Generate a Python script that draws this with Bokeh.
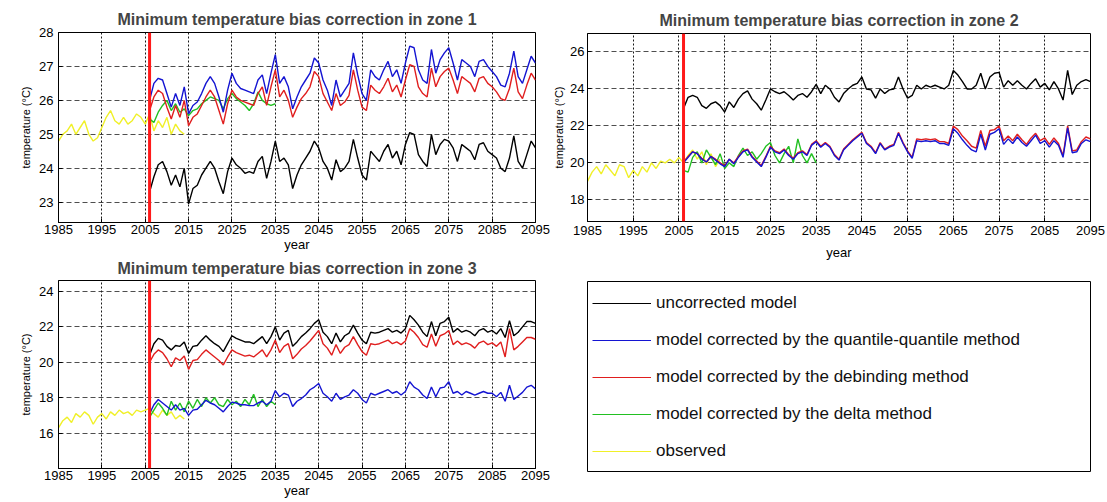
from bokeh.plotting import figure
from bokeh.models import Span, FixedTicker, Legend, LegendItem, Range1d
from bokeh.layouts import row, column
from bokeh.embed import file_html
from bokeh.resources import INLINE

# ---------------- data ----------------
obs_years = list(range(1985, 2015))
model_years = list(range(2006, 2096))
delta_years = list(range(2006, 2036))
x_ticks = list(range(1985, 2096, 10))
split_year = 2006

series_names = ["uncorrected model",
                "model corrected by the quantile-quantile method",
                "model corrected by the debinding method",
                "model corrected by the delta method",
                "observed"]

# zone 1
obs1 = [24.8, 25.0, 25.1, 25.3, 25.0, 25.2, 25.4, 25.0, 24.8, 24.9, 25.2, 25.5, 25.7, 25.4, 25.3,
        25.5, 25.3, 25.4, 25.6, 25.5, 25.3, 25.6, 25.1, 25.4, 25.2, 25.5, 25.0, 25.3, 25.1, 25.0]
delta1 = [25.45, 25.35, 25.65, 25.85, 26.0, 25.7, 25.9, 25.65, 25.75, 25.55, 25.7, 25.75, 25.9, 26.0, 26.1,
          26.05, 26.0, 25.75, 26.05, 26.2, 26.05, 25.95, 25.85, 25.7, 25.9, 26.25, 26.0, 25.9, 25.85, 25.9]
unc1 = [23.3, 23.75, 24.1, 24.2, 23.9, 23.5, 23.8, 23.45, 24.0, 22.95,
        23.4, 23.5, 23.8, 24.0, 24.2, 24.0, 23.6, 23.25, 23.9, 24.3,
        24.1, 24.0, 23.85, 23.9, 23.85, 24.2, 24.35, 23.7, 24.2, 24.8,
        24.2, 24.3, 24.1, 23.4, 23.8, 24.1, 24.3, 24.5, 24.8, 24.6,
        24.2, 24.0, 23.65, 24.25, 23.9, 24.0, 24.2, 24.85, 24.3, 23.8,
        23.65, 24.5, 24.35, 24.2, 24.5, 24.7, 24.3, 24.5, 24.1, 24.7,
        25.05, 25.0, 24.4, 24.2, 24.05, 25.0, 24.4, 24.7, 24.85, 24.8,
        24.6, 24.2, 24.7, 24.6, 24.5, 24.25, 24.7, 24.75, 24.5, 24.4,
        24.3, 24.0, 23.9, 24.3, 24.95, 24.2, 24.0, 24.4, 24.8, 24.6]
qq1 = [26.0, 26.5, 26.65, 26.6, 26.2, 25.8, 26.2, 25.85, 26.4, 25.6,
       25.85, 25.95, 26.2, 26.5, 26.7, 26.5, 26.1, 25.65, 26.3, 26.8,
       26.5, 26.35, 26.3, 26.25, 26.2, 26.6, 26.75, 26.2, 26.8, 27.35,
       26.5, 26.7, 26.4, 25.75, 26.1, 26.4, 26.6, 26.8, 27.25, 27.1,
       26.6, 26.3, 25.85, 26.6, 26.1, 26.3, 26.5, 27.4, 26.75, 26.2,
       26.0, 26.9, 26.7, 26.6, 26.9, 27.15, 26.7, 26.9, 26.5, 27.1,
       27.6, 27.55, 26.9, 26.6, 26.5, 27.5, 26.8, 27.2, 27.4, 27.55,
       27.1, 26.6, 27.2, 27.1, 27.0, 26.7, 27.15, 27.2, 27.0, 26.85,
       26.7, 26.45, 26.4, 26.8, 27.45, 26.7, 26.5, 26.9, 27.3, 27.1]
deb1 = [25.7, 26.1, 26.3, 26.2, 25.8, 25.45, 25.85, 25.5, 26.0, 25.25,
        25.5, 25.6, 25.85, 26.1, 26.3, 26.1, 25.7, 25.3, 25.9, 26.3,
        26.1, 26.0, 25.95, 25.9, 25.85, 26.2, 26.4, 25.85, 26.4, 26.9,
        26.1, 26.3, 26.0, 25.5, 25.8, 26.05, 26.2, 26.4, 26.85, 26.7,
        26.2, 25.95, 25.7, 26.2, 25.85, 25.95, 26.15, 26.9, 26.3, 25.8,
        25.7, 26.45, 26.3, 26.2, 26.4, 26.65, 26.25, 26.45, 26.1, 26.6,
        27.05, 27.0, 26.4, 26.2, 26.1, 26.95, 26.4, 26.7, 26.85, 26.95,
        26.6, 26.2, 26.7, 26.6, 26.5, 26.25, 26.65, 26.7, 26.5, 26.4,
        26.25, 26.05, 26.0, 26.35, 26.95, 26.25, 26.05, 26.45, 26.8, 26.6]

# zone 2
obs2 = [19.0, 19.5, 19.8, 19.4, 19.9, 19.6, 19.3, 19.9, 19.8, 19.2, 19.6, 19.3, 19.8, 19.5, 20.0,
        19.7, 20.1, 20.0, 20.2, 20.0, 20.3, 20.0, 20.4, 20.7, 20.2, 20.6, 19.9, 20.5, 19.8, 20.2]
delta2 = [19.6, 19.5, 20.3, 20.6, 20.0, 20.7, 20.3, 19.9, 20.5, 19.7, 20.0, 19.8, 20.4, 20.8, 20.4,
          20.6, 20.2, 20.5, 20.9, 21.1, 20.4, 20.0, 20.5, 20.9, 20.0, 21.3, 20.4, 20.0, 20.5, 20.0]
unc2 = [22.95, 23.55, 23.65, 23.55, 23.1, 22.95, 23.2, 23.3, 23.1, 22.75,
        23.3, 23.0, 23.45, 23.75, 23.9, 23.45, 23.2, 22.85, 23.4, 24.0,
        23.85, 23.75, 23.85, 23.65, 23.4, 23.65, 23.75, 23.55, 23.85, 24.25,
        23.75, 24.2, 24.0, 23.55, 23.3, 23.75, 24.0, 24.2, 24.3, 24.65,
        24.0, 23.95, 23.5, 24.0, 23.75, 23.95, 24.0, 24.65, 24.0, 23.5,
        23.65, 24.2, 24.0, 24.2, 24.1, 24.2, 24.1, 24.0, 24.2, 25.0,
        24.75, 24.4, 24.0, 24.0, 24.2, 24.85, 24.0, 24.65, 24.85, 24.9,
        24.1, 24.45, 24.2, 24.45, 24.2, 24.0, 24.3, 24.55, 24.1, 24.3,
        23.95, 24.4, 24.0, 23.4, 25.0, 23.7, 24.2, 24.4, 24.5, 24.4]
qq2 = [20.0, 20.3, 20.6, 20.5, 20.2, 20.05, 20.35, 20.15, 19.95, 19.8,
       20.2, 19.95, 20.3, 20.6, 20.7, 20.3, 20.05, 19.8, 20.3, 20.85,
       20.6, 20.5, 20.7, 20.4, 20.2, 20.5, 20.6, 20.4, 20.95, 21.15,
       20.85, 21.05, 20.85, 20.4, 20.15, 20.7, 20.95, 21.2, 21.4, 21.6,
       21.05, 20.85, 20.5, 21.05, 20.7, 20.85, 20.95, 21.6, 21.05, 20.6,
       20.25, 21.2, 21.15, 21.2, 21.15, 21.2, 21.05, 21.05, 20.95, 21.85,
       21.6, 21.25, 20.95, 20.7, 20.6, 21.55, 20.7, 21.55, 21.65, 21.85,
       21.0, 21.3, 21.05, 21.4, 21.1, 20.9, 21.2, 21.5, 21.05, 21.2,
       20.85, 21.2, 20.95, 20.3, 21.9, 20.55, 20.6, 21.05, 21.25, 21.15]
deb2 = [20.05, 20.35, 20.6, 20.5, 20.25, 20.05, 20.35, 20.2, 20.0, 19.85,
        20.2, 20.0, 20.35, 20.65, 20.75, 20.35, 20.1, 19.85, 20.35, 20.9,
        20.65, 20.55, 20.75, 20.45, 20.25, 20.55, 20.65, 20.45, 21.0, 21.2,
        20.9, 21.1, 20.9, 20.45, 20.2, 20.75, 21.0, 21.25, 21.45, 21.65,
        21.1, 20.9, 20.55, 21.1, 20.75, 20.9, 21.0, 21.65, 21.1, 20.65,
        20.3, 21.3, 21.25, 21.3, 21.25, 21.3, 21.15, 21.15, 21.05, 22.0,
        21.8, 21.45, 21.2, 20.9, 20.8, 21.75, 20.9, 21.75, 21.8, 22.0,
        21.2, 21.45, 21.2, 21.55, 21.25, 21.0, 21.35, 21.6, 21.2, 21.35,
        21.0, 21.35, 21.05, 20.4, 22.0, 20.65, 20.7, 21.15, 21.4, 21.3]

# zone 3
obs3 = [16.3, 16.7, 16.9, 16.6, 17.1, 16.9, 17.2, 17.0, 16.5, 16.9, 17.1, 16.8, 17.2, 17.0, 17.3,
        17.1, 17.2, 17.0, 17.3, 17.2, 17.3, 17.4, 17.1, 16.9, 17.3, 17.0, 17.2, 16.8, 17.0, 16.8]
delta3 = [16.9, 17.3, 17.7, 17.4, 17.0, 17.8, 17.3, 17.7, 17.2, 17.8, 17.4, 17.9, 17.5, 18.0, 17.7,
          18.0, 17.6, 17.5, 17.9, 17.6, 17.8, 17.5, 17.9, 17.6, 18.2, 17.5, 17.9, 17.5, 17.8, 17.6]
unc3 = [20.4, 21.05, 21.35, 21.25, 20.9, 20.7, 20.95, 20.9, 21.15, 20.5,
        20.9, 20.95, 21.25, 21.5, 21.25, 21.05, 20.9, 20.6, 21.05, 21.5,
        21.35, 21.25, 21.15, 21.15, 21.05, 21.25, 21.45, 21.05, 21.45, 22.0,
        21.25, 21.65, 21.8, 20.9, 21.15, 21.45, 21.65, 21.9, 22.2, 22.4,
        21.7, 21.45, 21.05, 21.65, 21.15, 21.5, 21.65, 22.1, 21.65, 21.25,
        21.05, 21.7, 21.65, 21.7, 21.8, 21.9, 21.7, 21.8, 21.65, 21.9,
        22.65, 22.4, 22.1, 21.7, 21.45, 22.3, 21.5, 22.2, 22.3, 22.55,
        21.7, 21.9, 21.7, 21.8, 21.7, 21.5, 21.8, 21.9, 21.7, 21.8,
        21.6, 21.9, 21.4, 22.35, 21.5, 21.7, 22.0, 22.3, 22.3, 22.2]
qq3 = [17.1, 17.6, 17.9, 17.7, 17.5, 17.3, 17.6, 17.3, 17.4, 17.0,
       17.3, 17.35, 17.6, 17.85, 17.7, 17.6, 17.4, 17.2, 17.5, 17.75,
       17.7, 17.6, 17.6, 17.55, 17.55, 17.7, 17.8, 17.6, 17.8, 18.4,
       18.05, 18.25, 18.15, 17.5, 17.8, 17.95, 18.15, 18.45, 18.6, 18.8,
       18.25, 18.05, 17.8, 18.25, 17.9, 18.05, 18.15, 18.45, 18.25, 17.9,
       17.7, 18.25, 18.15, 18.25, 18.35, 18.45, 18.25, 18.35, 18.15, 18.35,
       18.9, 18.6, 18.45, 18.15, 17.95, 18.6, 18.05, 18.55, 18.6, 18.9,
       18.25, 18.35, 18.15, 18.35, 18.25, 18.15, 18.25, 18.35, 18.25, 18.25,
       18.05, 18.3, 17.8, 18.7, 17.9, 18.1, 18.3, 18.6, 18.7, 18.5]
deb3 = [20.0, 20.45, 20.7, 20.55, 20.2, 19.75, 20.25, 20.1, 20.35, 19.6,
        20.1, 20.15, 20.45, 20.7, 20.5, 20.3, 20.1, 19.85, 20.3, 20.7,
        20.55, 20.45, 20.35, 20.4, 20.3, 20.5, 20.7, 20.3, 20.7, 21.25,
        20.55, 20.9, 21.05, 20.2, 20.45, 20.75, 20.95, 21.2, 21.5, 21.8,
        21.05, 20.8, 20.4, 21.0, 20.5, 20.85, 21.0, 21.45, 21.0, 20.6,
        20.4, 21.05, 21.0, 21.05, 21.15, 21.25, 21.05, 21.15, 21.0, 21.2,
        21.9, 21.7, 21.4, 21.0, 20.85, 21.6, 20.9, 21.5, 21.6, 21.8,
        21.0, 21.2, 21.0, 21.1, 21.0, 20.8, 21.1, 21.2, 21.0, 21.1,
        20.9, 21.15, 20.3, 21.9, 20.7, 20.9, 21.15, 21.4, 21.4, 21.3]

# ---------------- styling ----------------
FONT = "Liberation Sans"
C_UNC = "#000000"
C_QQ = "#1414d2"
C_DEB = "#e01e1e"
C_DELTA = "#22c022"
C_OBS = "#f0f028"


def panel(title, y0, y1, yticks, obs, delta, deb, qq, unc, w, h, bl, br, bt, bb,
          title_standoff=10, xlab_standoff=0, xtick_standoff=2,
          ytick_standoff=5, ylab_standoff=4):
    p = figure(width=w, height=h, output_backend="svg", toolbar_location=None,
               x_range=Range1d(1985, 2095), y_range=Range1d(y0, y1),
               min_border_left=bl, min_border_right=br, min_border_top=bt,
               min_border_bottom=bb, background_fill_color="white",
               border_fill_color="white", outline_line_color="black",
               outline_line_width=1)
    p.title.text = title
    p.title.align = "center"
    p.title.text_font = FONT
    p.title.text_font_size = "16px"
    p.title.text_font_style = "bold"
    p.title.standoff = title_standoff
    p.xaxis.ticker = FixedTicker(ticks=x_ticks)
    p.yaxis.ticker = FixedTicker(ticks=yticks)
    p.xaxis.axis_label = "year"
    p.yaxis.axis_label = "temperature (°C)"
    for ax in (p.xaxis, p.yaxis):
        ax.axis_line_color = "black"
        ax.major_tick_line_color = "black"
        ax.major_tick_in = 4
        ax.major_tick_out = 0
        ax.minor_tick_line_color = None
        ax.major_label_text_font = FONT
        ax.major_label_text_font_size = "13px"
        ax.major_label_text_color = "black"
        ax.axis_label_text_font = FONT
        ax.axis_label_text_font_style = "normal"
        ax.axis_label_text_color = "black"
    p.xaxis.axis_label_text_font_size = "13px"
    p.yaxis.axis_label_text_font_size = "11px"
    p.xaxis.major_label_standoff = xtick_standoff
    p.xaxis.axis_label_standoff = xlab_standoff
    p.yaxis.major_label_standoff = ytick_standoff
    p.yaxis.axis_label_standoff = ylab_standoff
    p.xgrid.grid_line_color = "black"
    p.xgrid.grid_line_dash = "2 2"
    p.xgrid.grid_line_alpha = 0.9
    p.ygrid.grid_line_color = "#222222"
    p.ygrid.grid_line_dash = "5 3"
    p.ygrid.grid_line_alpha = 0.8

    p.line(obs_years, obs, line_color=C_OBS, line_width=1.4)
    p.line(delta_years, delta, line_color=C_DELTA, line_width=1.4)
    p.line(model_years, deb, line_color=C_DEB, line_width=1.4)
    p.line(model_years, qq, line_color=C_QQ, line_width=1.4)
    p.line(model_years, unc, line_color=C_UNC, line_width=1.4)
    p.add_layout(Span(location=split_year, dimension="height",
                      line_color="#ff1a1a", line_width=3))
    return p


p1 = panel("Minimum temperature bias correction in zone 1", 22.4, 28.0,
           [23, 24, 25, 26, 27, 28], obs1, delta1, deb1, qq1, unc1,
           w=550, h=254, bl=58, br=15, bt=32, bb=31)
p3 = panel("Minimum temperature bias correction in zone 3", 14.0, 24.62,
           [16, 18, 20, 22, 24], obs3, delta3, deb3, qq3, unc3,
           w=550, h=248, bl=58, br=15, bt=26, bb=34, title_standoff=7)
p2 = panel("Minimum temperature bias correction in zone 2", 16.83, 27.0,
           [18, 20, 22, 24, 26], obs2, delta2, deb2, qq2, unc2,
           w=557, h=262, bl=37, br=17, bt=33, bb=40,
           xlab_standoff=7, xtick_standoff=4, ytick_standoff=3, ylab_standoff=2)

# legend panel (frame outline = legend box)
p4 = figure(width=557, height=240, output_backend="svg", toolbar_location=None,
            x_range=Range1d(0, 1), y_range=Range1d(0, 1),
            x_axis_location=None, y_axis_location=None,
            min_border_left=30, min_border_right=17, min_border_top=19,
            min_border_bottom=31, outline_line_color="black",
            outline_line_width=1, background_fill_color="white",
            border_fill_color="white")
p4.xgrid.visible = False
p4.ygrid.visible = False
colors = [C_UNC, C_QQ, C_DEB, C_DELTA, C_OBS]
legend_src = [(model_years, unc1), (model_years, qq1), (model_years, deb1),
              (delta_years, delta1), (obs_years, obs1)]
items = []
for name, c, (xs, ys) in zip(series_names, colors, legend_src):
    # renderer only feeds the legend; its data lie outside this panel's ranges
    r = p4.line(xs, ys, line_color=c, line_width=1.2)
    items.append(LegendItem(label=name, renderers=[r]))
leg = Legend(items=items, location=(5, 10), margin=0, padding=11,
             spacing=17, glyph_width=59, glyph_height=20, label_height=20,
             label_standoff=5, label_text_font=FONT,
             label_text_font_size="17px", label_text_color="#111111",
             border_line_color=None, background_fill_alpha=0)
p4.add_layout(leg)

layout = row(column(p1, p3), column(p2, p4))

open("out.html", "w").write(file_html(layout, INLINE))
